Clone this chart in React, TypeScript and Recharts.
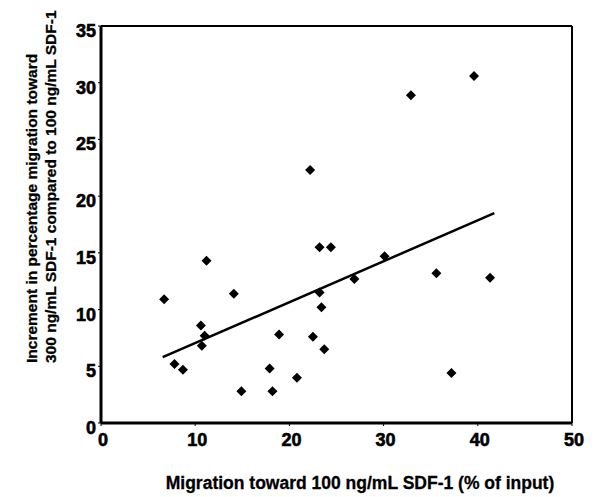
import React from "react";
import { ScatterChart, Scatter, XAxis, YAxis, ReferenceLine } from "recharts";

const migration100 = [6.7, 7.8, 8.7, 10.6, 11.0, 10.7, 11.2, 14.1, 14.9, 17.9, 18.2, 18.9, 20.8, 22.5, 22.2, 23.2, 24.4, 23.2, 23.4, 23.7, 26.9, 30.1, 32.9, 35.6, 37.2, 39.6, 41.3];
const increment300 = [10.9, 5.2, 4.7, 8.6, 7.7, 6.8, 14.3, 11.4, 2.8, 4.8, 2.8, 7.8, 4.0, 7.6, 22.3, 15.5, 15.5, 11.5, 10.2, 6.5, 12.7, 14.7, 28.9, 13.2, 4.4, 30.6, 12.8];
const fitX = [6.55, 41.75];
const fitY = [5.8, 18.5];
const xTicks = [0, 10, 20, 30, 40, 50];
const yTicks = [0, 5, 10, 15, 20, 25, 30, 35];

const points = migration100.map((x, i) => ({ x, y: increment300[i] }));
const fitLine = fitX.map((x, i) => ({ x, y: fitY[i] }));

const FONT = "'Liberation Sans', Arial, sans-serif";
const bold = { fontFamily: FONT, fontWeight: 700 };

const Diamond = (props: any) => {
  const { cx, cy } = props;
  const r = 5;
  return <polygon points={`${cx},${cy - r} ${cx + r},${cy} ${cx},${cy + r} ${cx - r},${cy}`} fill="#000" />;
};

// tick text a bit heavier, like the scanned original
const XTick = ({ x, y, payload }: any) => (
  <text x={x + 2} y={y + 18} textAnchor="middle" style={{ ...bold, fontSize: 18 }} fill="#000" stroke="#000" strokeWidth={0.6}>
    {payload.value}
  </text>
);

const YTick = ({ x, y, payload }: any) => (
  <text x={x} y={y + 11} textAnchor="end" style={{ ...bold, fontSize: 18 }} fill="#000" stroke="#000" strokeWidth={0.6}>
    {payload.value}
  </text>
);

export default function App() {
  return (
    <div style={{ position: "absolute", left: 0, top: 0, width: 598, height: 497, background: "#fff" }}>
      <ScatterChart width={598} height={497} margin={{ top: 26, right: 26, bottom: 0, left: 0 }}>
        <XAxis
          type="number"
          dataKey="x"
          domain={[0, 50]}
          ticks={xTicks}
          height={74}
          tickSize={3}
          tickMargin={2}
          axisLine={{ stroke: "#000", strokeWidth: 3 }}
          tickLine={{ stroke: "#000" }}
          tick={<XTick />}
          label={{
            content: () => (
              <text x={360} y={489} textAnchor="middle" style={{ ...bold, fontSize: 17.5 }} fill="#000" stroke="#000" strokeWidth={0.3}>
                Migration toward 100 ng/mL SDF-1 (% of input)
              </text>
            ),
          }}
        />
        <YAxis
          type="number"
          dataKey="y"
          domain={[0, 35]}
          ticks={yTicks}
          width={101}
          tickSize={3}
          tickMargin={2}
          axisLine={{ stroke: "#000", strokeWidth: 3 }}
          tickLine={{ stroke: "#000" }}
          tick={<YTick />}
          label={{
            content: () => (
              <g style={{ ...bold, fontSize: 15.5 }} fill="#000" stroke="#000" strokeWidth={0.3}>
                <text transform="translate(37,363) rotate(-90)">Increment in percentage migration toward</text>
                <text transform="translate(56,363) rotate(-90)">300 ng/mL SDF-1 compared to 100 ng/mL SDF-1</text>
              </g>
            ),
          }}
        />
        <ReferenceLine y={35} stroke="#000" strokeWidth={2} />
        <ReferenceLine x={50} stroke="#000" strokeWidth={2} />
        <Scatter data={points} shape={<Diamond />} isAnimationActive={false} />
        <Scatter data={fitLine} line={{ stroke: "#000", strokeWidth: 2.5 }} shape={() => <g />} isAnimationActive={false} />
      </ScatterChart>
    </div>
  );
}
